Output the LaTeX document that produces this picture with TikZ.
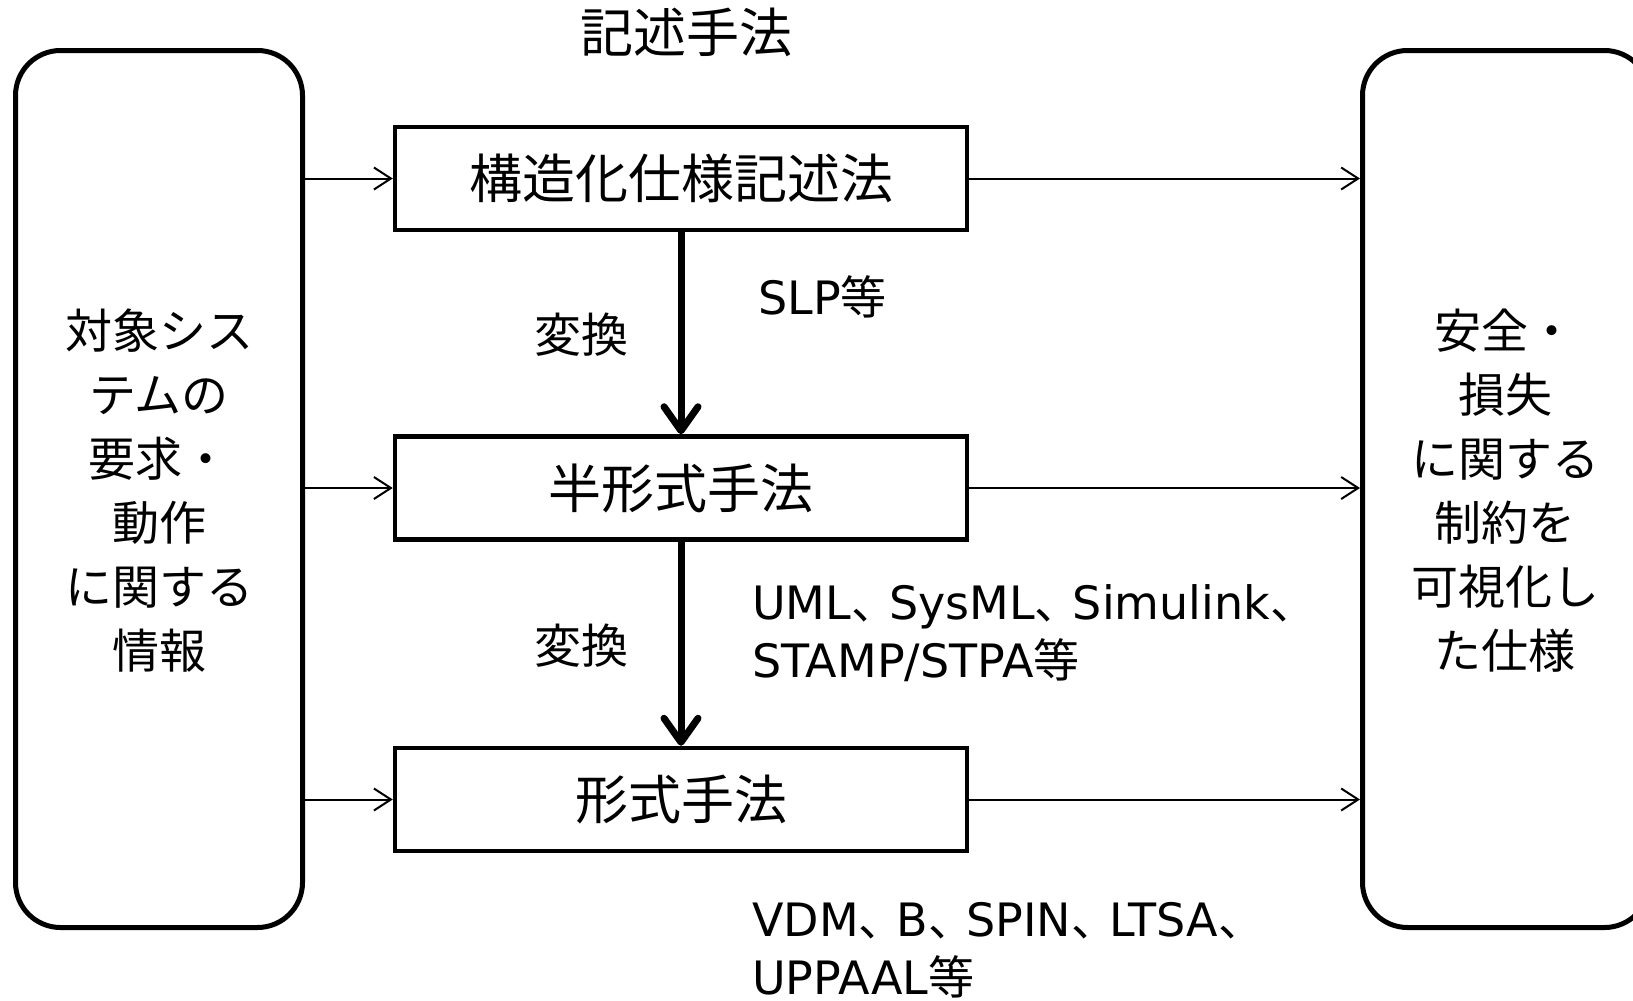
\documentclass[tikz,border=0pt]{standalone}
\usepackage{fontspec}
\setmainfont{DejaVu Sans}
\newfontfamily\jp{Noto Sans CJK JP}
\usetikzlibrary{arrows.meta}
\newcommand{\J}[1]{{\jp #1}}
\newcommand{\tc}{{\jp 、}\kern-8pt}
\tikzset{
  bigbox/.style={draw, line width=5pt, rounded corners=45pt, minimum width=287pt, minimum height=877pt, inner sep=0pt},
  methodbox/.style={draw, line width=4.5pt, minimum width=572pt, minimum height=103pt, inner sep=0pt, font=\jp\fontsize{53}{60}\selectfont},
  thinarrow/.style={line width=2pt, -{Straight Barb[length=17pt,width=22pt]}},
  thickarrow/.style={line width=7pt, -{Straight Barb[length=24pt,width=34pt,round]}},
  sidetext/.style={font=\jp\fontsize{47}{64}\selectfont, align=center, inner sep=0pt},
  convtext/.style={font=\jp\fontsize{47}{56}\selectfont, inner sep=0pt},
  titletext/.style={font=\jp\fontsize{53}{60}\selectfont, inner sep=0pt},
  examples/.style={font=\fontsize{46}{58}\selectfont, align=left, inner sep=0pt, anchor=west},
}
\begin{document}
\begin{tikzpicture}[x=1pt,y=-1pt]
\clip (0,0) rectangle (1633,1001);
\fill[white] (0,0) rectangle (1633,1001);

\node[bigbox] (L) at (159,489) {};
\node[bigbox] (R) at (1506,489) {};

\node[methodbox] (T) at (681,178.5) {構造化仕様記述法};
\node[methodbox] (M) at (681,488) {半形式手法};
\node[methodbox] (B) at (681,799.5) {形式手法};

\node[titletext] (title) at (686,32) {記述手法};

\node[sidetext] (ltext) at (159,491) {対象シス\\テムの\\要求・\\動作\\に関する\\情報};
\node[sidetext] (rtext) at (1505,491) {安全・\\損失\\に関する\\制約を\\可視化し\\た仕様};

\node[convtext] (c1) at (581,335) {変換};
\node[convtext] (c2) at (581,646) {変換};

\node[examples] (slp) at (758,297) {SLP\J{等}};
\node[examples] (uml) at (752,633) {UML\tc SysML\tc Simulink\tc\\STAMP/STPA\J{等}};
\node[examples] (vdm) at (752,950) {VDM\tc B\tc SPIN\tc LTSA\tc\\UPPAAL\J{等}};

\foreach \n in {T,M,B}{
  \draw[thinarrow] (L.east |- \n.west) -- (\n.west);
  \draw[thinarrow] (\n.east) -- (R.west |- \n.east);
}
\draw[thickarrow] (T.south) -- (M.north);
\draw[thickarrow] (M.south) -- (B.north);
\end{tikzpicture}
\end{document}
